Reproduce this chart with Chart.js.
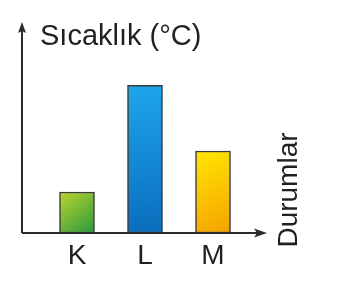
<!DOCTYPE html>
<html><head><meta charset="utf-8">
<script src="https://cdn.jsdelivr.net/npm/chart.js@4/dist/chart.umd.min.js"></script>
<style>html,body{margin:0;padding:0;background:#fff;overflow:hidden}canvas{display:block}</style>
</head><body>
<canvas id="c" width="345" height="282"></canvas>
<script>
const categories = ['K', 'L', 'M'];
const values = [1, 3.6, 2];
const yTitle = 'Sıcaklık (°C)';
const xTitle = 'Durumlar';
const gradStart = ['#bcd431', '#1ea6ec', '#ffe600'];
const gradEnd = ['#2a9a3c', '#0a6cbb', '#f6a200'];
const FONT = "'Liberation Sans', Arial, sans-serif";
const INK = '#2b2b2b';

function barGradient(c) {
  const chart = c.chart;
  const i = c.dataIndex;
  if (!chart.chartArea || !chart.scales.x || !chart.scales.y) return gradStart[i];
  const x = chart.scales.x.getPixelForValue(i);
  const yt = chart.scales.y.getPixelForValue(c.raw);
  const yb = chart.scales.y.getPixelForValue(0);
  const g = chart.ctx.createLinearGradient(x - 17, yt, x + 17, yb);
  g.addColorStop(0, gradStart[i]);
  g.addColorStop(1, gradEnd[i]);
  return g;
}

const axesPlugin = {
  id: 'axesArrows',
  afterDraw(chart) {
    const ctx = chart.ctx;
    const y0 = chart.scales.y.getPixelForValue(0);
    const ax = chart.chartArea.left - 21;
    const xEnd = chart.chartArea.right + 20;
    ctx.save();
    ctx.strokeStyle = INK; ctx.fillStyle = INK; ctx.lineWidth = 2;
    ctx.beginPath();
    ctx.moveTo(ax, y0); ctx.lineTo(ax, 28);
    ctx.moveTo(ax, y0); ctx.lineTo(xEnd - 8, y0);
    ctx.stroke();
    // y arrow head
    ctx.beginPath();
    ctx.moveTo(ax, 22); ctx.lineTo(ax + 4, 33); ctx.lineTo(ax, 31); ctx.lineTo(ax - 4, 33); ctx.closePath(); ctx.fill();
    // x arrow head
    ctx.beginPath();
    ctx.moveTo(xEnd, y0); ctx.lineTo(xEnd - 13, y0 - 4.5); ctx.lineTo(xEnd - 10, y0); ctx.lineTo(xEnd - 13, y0 + 4.5); ctx.closePath(); ctx.fill();
    // titles
    ctx.fillStyle = '#231f20';
    ctx.font = '29px ' + FONT;
    ctx.textAlign = 'left'; ctx.textBaseline = 'alphabetic';
    ctx.fillText(yTitle, 40, 45);
    ctx.font = '28px ' + FONT;
    ctx.translate(297, 190);
    ctx.rotate(-Math.PI / 2);
    ctx.textAlign = 'center';
    ctx.fillText(xTitle, 0, 0);
    ctx.restore();
  }
};

new Chart(document.getElementById('c'), {
  type: 'bar',
  data: {
    labels: categories,
    datasets: [{
      data: values,
      backgroundColor: barGradient,
      borderColor: '#3a3a3a',
      borderWidth: 1.5,
      borderSkipped: false,
      barThickness: 35
    }]
  },
  options: {
    responsive: false,
    devicePixelRatio: 1,
    animation: false,
    layout: { padding: { left: 43, right: 98, top: 28, bottom: 3.4 } },
    plugins: { legend: { display: false }, tooltip: { enabled: false }, title: { display: false } },
    scales: {
      x: {
        grid: { display: false, drawTicks: false },
        border: { display: false },
        ticks: { color: '#231f20', font: { size: 28, family: FONT }, padding: 6 }
      },
      y: { display: false, min: 0, max: 5 }
    }
  },
  plugins: [axesPlugin]
});
</script>
</body></html>
